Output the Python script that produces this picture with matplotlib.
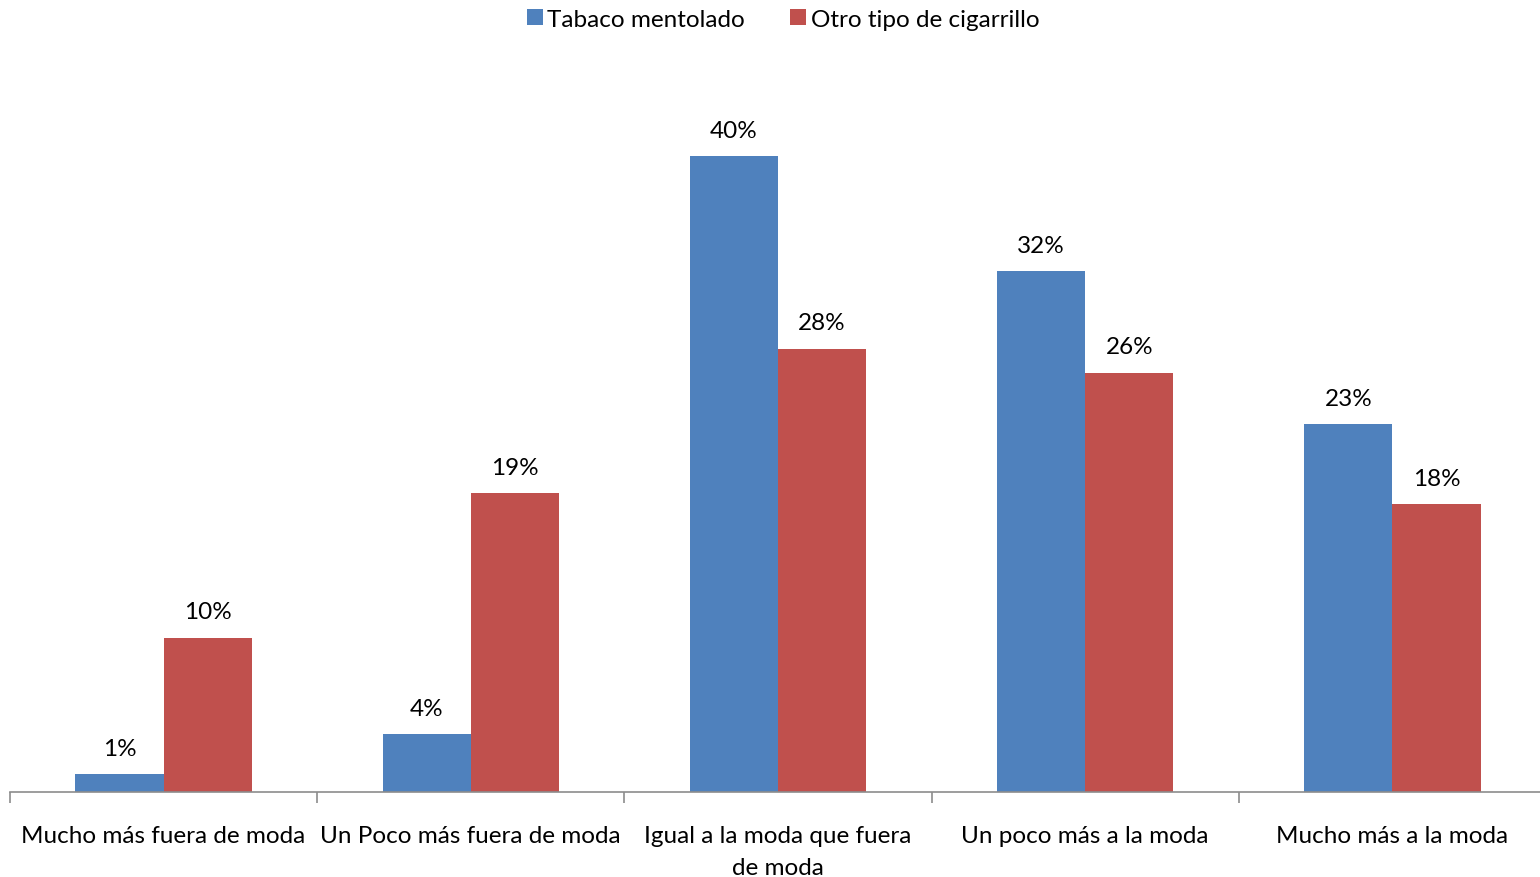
import numpy as np
import matplotlib.pyplot as plt

# datos
categorias = ["Mucho más fuera de moda", "Un Poco más fuera de moda",
              "Igual a la moda que fuera\nde moda", "Un poco más a la moda",
              "Mucho más a la moda"]
series = ["Tabaco mentolado", "Otro tipo de cigarrillo"]
mentolado = [1.1, 3.6, 39.6, 32.4, 22.9]
otro = [9.6, 18.6, 27.6, 26.1, 17.9]
etiq_mentolado = ["1%", "4%", "40%", "32%", "23%"]
etiq_otro = ["10%", "19%", "28%", "26%", "18%"]

colors = ["#4F81BD", "#C0504D"]

plt.rcParams['font.family'] = ['Lato', 'DejaVu Sans']
plt.rcParams['font.size'] = 17.5

fig = plt.figure(figsize=(15.4, 8.78), dpi=100)
# axes: left edge x=10px, baseline y=792px
W, H = 1540, 878
x0, x1 = 10, 1546
y_base, y_top = 793, 62
ax = fig.add_axes([x0 / W, 1 - y_base / H, (x1 - x0) / W, (y_base - y_top) / H])

x = np.arange(len(categorias))
bw = 0.287
b1 = ax.bar(x - bw / 2, mentolado, bw, color=colors[0], label=series[0])
b2 = ax.bar(x + bw / 2, otro, bw, color=colors[1], label=series[1])

for bars, vals, labs in [(b1, mentolado, etiq_mentolado), (b2, otro, etiq_otro)]:
    for b, v, l in zip(bars, vals, labs):
        ax.annotate(l, (b.get_x() + b.get_width() / 2, v), xytext=(0, 11),
                    textcoords="offset points", ha="center", va="bottom")

ax.set_xlim(-0.5, len(categorias) - 0.5)
ax.set_ylim(0, 45.5)
ax.set_yticks([])
for s in ["top", "right", "left"]:
    ax.spines[s].set_visible(False)
ax.spines["bottom"].set_color("#8c8c8c")
ax.spines["bottom"].set_linewidth(1.2)

ax.set_xticks(np.arange(-0.5, len(categorias), 1.0))
ax.set_xticklabels([])
ax.tick_params(axis="x", which="major", length=8, color="#8c8c8c", width=1.2, direction="out")
ax.set_xticks(x, minor=True)
ax.set_xticklabels(categorias, minor=True, linespacing=1.65)
ax.tick_params(axis="x", which="minor", length=0, pad=24)

fig.legend(loc="upper center", bbox_to_anchor=(0.5085, 1.0), ncol=2, frameon=False,
           handlelength=0.65, handleheight=0.65, handletextpad=0.2, columnspacing=1.85,
           borderaxespad=0.0)

fig.savefig("out.png", dpi=100)
